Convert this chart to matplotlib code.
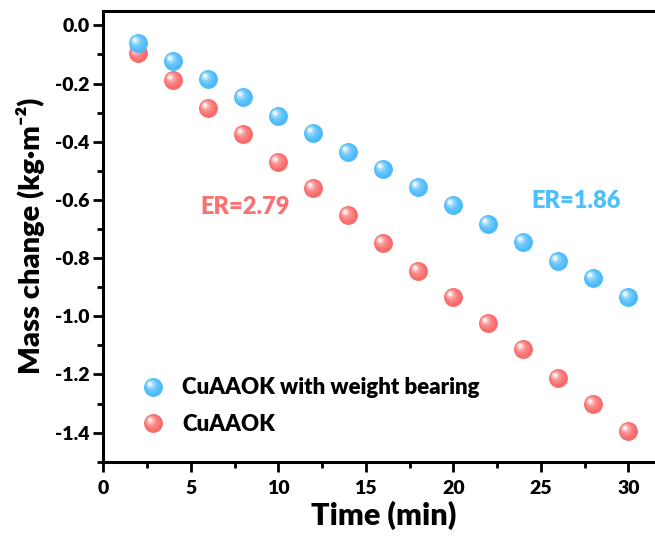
import numpy as np
import matplotlib
matplotlib.use("Agg")
import matplotlib.pyplot as plt
from matplotlib.markers import MarkerStyle
from matplotlib.transforms import Affine2D
from matplotlib.legend_handler import HandlerTuple
from matplotlib.colors import to_rgb

plt.rcParams['font.family'] = ['Lato', 'DejaVu Sans']
plt.rcParams['font.weight'] = 'heavy'
W = 'heavy'

time_min = [2, 4, 6, 8, 10, 12, 14, 16, 18, 20, 22, 24, 26, 28, 30]
mass_weight = [-0.060, -0.123, -0.183, -0.246, -0.312, -0.369, -0.434, -0.495,
               -0.556, -0.619, -0.682, -0.744, -0.810, -0.870, -0.933]
mass_plain = [-0.096, -0.188, -0.283, -0.375, -0.469, -0.560, -0.653, -0.748,
              -0.843, -0.933, -1.024, -1.114, -1.211, -1.303, -1.395]
labels = ["CuAAOK with weight bearing", "CuAAOK"]
er_texts = ["ER=1.86", "ER=2.79"]

blue = "#4DBBF9"
red = "#F86B6B"

fig = plt.figure(figsize=(6.55, 5.37), dpi=100)
ax = fig.add_axes([0.1577, 0.1402, 0.855, 0.8397])


def mix(c, f):
    r = np.array(to_rgb(c))
    return tuple(r + (1 - r) * f)


def sphere(x, y, color, ms=13.6, z=3):
    layers = []
    base = ax.plot(x, y, ls='none', marker='o', ms=ms, mfc=color,
                   mec='none', zorder=z)[0]
    layers.append(base)
    spec = [(0.78, -0.07, 0.07, 0.12), (0.56, -0.12, 0.12, 0.3),
            (0.38, -0.16, 0.16, 0.55), (0.22, -0.18, 0.18, 0.88)]
    for i, (s, dx, dy, f) in enumerate(spec):
        m = MarkerStyle('o', transform=Affine2D().scale(s).translate(dx, dy))
        ln = ax.plot(x, y, ls='none', marker=m, ms=ms, mfc=mix(color, f),
                     mec='none', zorder=z + 0.1 * (i + 1))[0]
        layers.append(ln)
    return tuple(layers)


h_plain = sphere(time_min, mass_plain, red, z=3)
h_weight = sphere(time_min, mass_weight, blue, z=4)

ax.set_xlim(0, 32)
ax.set_ylim(-1.5, 0.05)
ax.set_xticks([0, 5, 10, 15, 20, 25, 30])
ax.set_xticks(np.arange(2.5, 32, 5), minor=True)
yt = np.round(np.arange(0, -1.41, -0.2), 1)
ax.set_yticks(yt)
ax.set_yticks(np.round(np.arange(-0.1, -1.51, -0.2), 1), minor=True)
ax.set_yticklabels([f"{v:.1f}" for v in yt])
for lab in ax.get_xticklabels() + ax.get_yticklabels():
    lab.set_fontweight(W)

for s in ax.spines.values():
    s.set_linewidth(2.2)
ax.spines['right'].set_visible(False)
ax.tick_params(which='major', direction='out', length=7, width=2, labelsize=14, pad=3)
ax.tick_params(which='minor', direction='out', length=4, width=2)
ax.tick_params(axis='x', which='major', pad=6)

ax.set_xlabel("Time (min)", fontsize=22, fontweight=W, labelpad=3)
ax.set_ylabel("Mass change (kg·m⁻²)", fontsize=21, fontweight=W, labelpad=7)

ax.text(27.0, -0.604, er_texts[0], color="#4DBFF9", fontsize=17, fontweight=W,
        ha='center', va='center')
ax.text(8.1, -0.623, er_texts[1], color="#F87272", fontsize=17, fontweight=W,
        ha='center', va='center')

leg = ax.legend([h_weight, h_plain], labels, handler_map={tuple: HandlerTuple(ndivide=1)},
                loc='lower left', bbox_to_anchor=(0.034, 0.015), frameon=False,
                prop={'size': 16, 'weight': W},
                handlelength=1.0, handletextpad=0.8, labelspacing=0.7)

fig.savefig("out.png", dpi=100)
